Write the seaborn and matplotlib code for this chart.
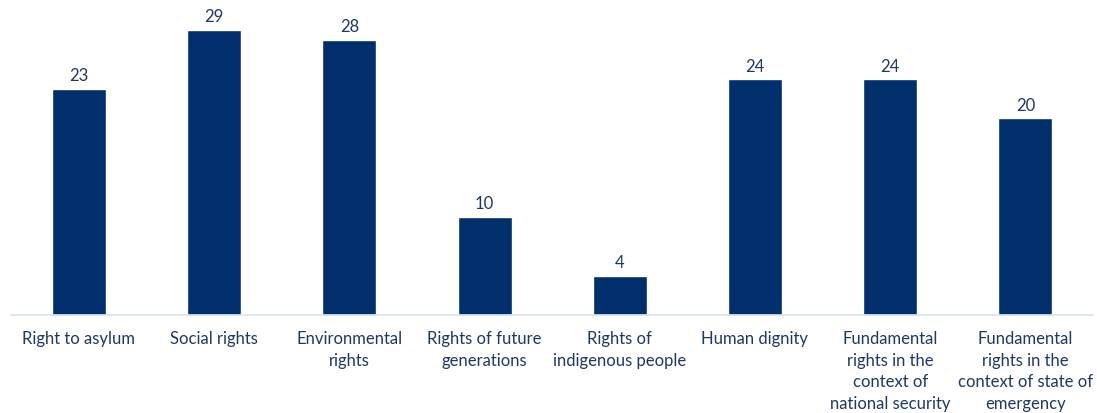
import matplotlib
matplotlib.use("Agg")
import matplotlib.pyplot as plt
import seaborn as sns
import pandas as pd

categories = [
    "Right to asylum",
    "Social rights",
    "Environmental\nrights",
    "Rights of future\ngenerations",
    "Rights of\nindigenous people",
    "Human dignity",
    "Fundamental\nrights in the\ncontext of\nnational security",
    "Fundamental\nrights in the\ncontext of state of\nemergency",
]
values = [23, 29, 28, 10, 4, 24, 24, 20]

sns.set_theme(style="white")
plt.rcParams['font.family'] = ['Lato', 'DejaVu Sans']

bar_color = "#002F6C"
text_color = "#1F3864"

df = pd.DataFrame({"category": categories, "value": values})

fig = plt.figure(figsize=(10.97, 4.14), dpi=100)
ax = fig.add_axes([11.4 / 1097, (414 - 316) / 414, (1093 - 11.4) / 1097, 316 / 414])

sns.barplot(data=df, x="category", y="value", color=bar_color, width=0.4,
            saturation=1, ax=ax)

ax.set_ylim(0, 32.15)
ax.set_xlim(-0.5, len(categories) - 0.5)
ax.bar_label(ax.containers[0], labels=[str(v) for v in values], padding=4,
             fontsize=12, color=text_color)

for s in ["top", "right", "left"]:
    ax.spines[s].set_visible(False)
ax.spines["bottom"].set_color("#D6E4F5")
ax.spines["bottom"].set_linewidth(1.2)
ax.set_yticks([])
ax.set_xlabel("")
ax.set_ylabel("")
ax.tick_params(axis="x", length=0, pad=11, labelsize=12, colors=text_color)
for lbl in ax.get_xticklabels():
    lbl.set_linespacing(1.42)
    lbl.set_horizontalalignment("center")

fig.savefig("out.png", dpi=100)
